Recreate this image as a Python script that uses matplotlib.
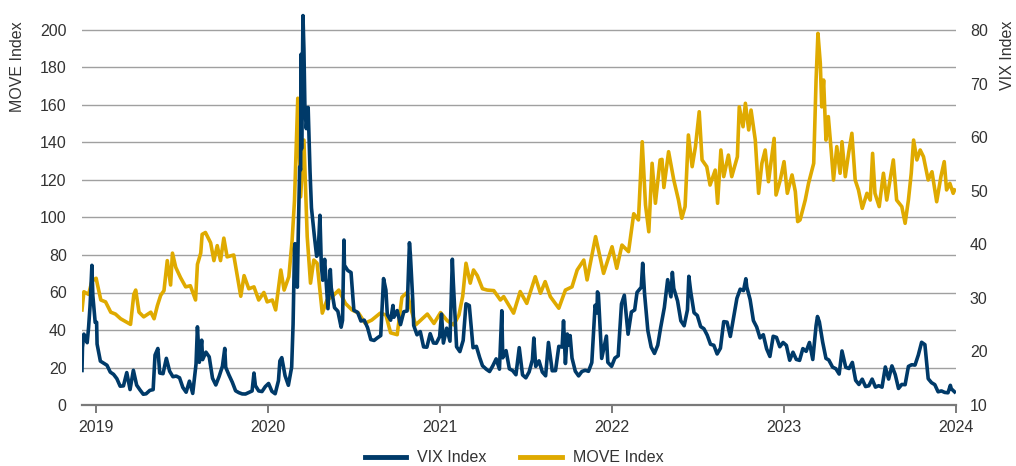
import matplotlib
matplotlib.use("Agg")
import matplotlib.pyplot as plt
import matplotlib.dates as mdates
import pandas as pd

plt.rcParams["font.family"] = ["Liberation Sans", "DejaVu Sans"]

# ── Data ──────────────────────────────────────────────────────────────────────
vix_dates = [
    "2018-12-03", "2018-12-04", "2018-12-07", "2018-12-10", "2018-12-14", "2018-12-17",
    "2018-12-20", "2018-12-21", "2018-12-24", "2018-12-26", "2018-12-28", "2018-12-31",
    "2019-01-03", "2019-01-04", "2019-01-11", "2019-01-18", "2019-01-25", "2019-02-01",
    "2019-02-08", "2019-02-15", "2019-02-22", "2019-03-01", "2019-03-08", "2019-03-15",
    "2019-03-22", "2019-03-29", "2019-04-05", "2019-04-12", "2019-04-18", "2019-04-26",
    "2019-05-03", "2019-05-07", "2019-05-13", "2019-05-17", "2019-05-24", "2019-05-31",
    "2019-06-07", "2019-06-14", "2019-06-21", "2019-06-28", "2019-07-05", "2019-07-12",
    "2019-07-19", "2019-07-26", "2019-08-02", "2019-08-05", "2019-08-09", "2019-08-14",
    "2019-08-16", "2019-08-23", "2019-08-30", "2019-09-06", "2019-09-13", "2019-09-20",
    "2019-09-27", "2019-10-02", "2019-10-04", "2019-10-11", "2019-10-18", "2019-10-25",
    "2019-11-01", "2019-11-08", "2019-11-15", "2019-11-22", "2019-11-29", "2019-12-03",
    "2019-12-06", "2019-12-13", "2019-12-20", "2019-12-27",
    "2020-01-03", "2020-01-10", "2020-01-17", "2020-01-24", "2020-01-27", "2020-01-31",
    "2020-02-07", "2020-02-14", "2020-02-21", "2020-02-24", "2020-02-27", "2020-02-28",
    "2020-03-04", "2020-03-06", "2020-03-09", "2020-03-11", "2020-03-12", "2020-03-13",
    "2020-03-16", "2020-03-18", "2020-03-20", "2020-03-23", "2020-03-27", "2020-03-31",
    "2020-04-03", "2020-04-09", "2020-04-14", "2020-04-17", "2020-04-21", "2020-04-24",
    "2020-04-27", "2020-05-01", "2020-05-08", "2020-05-13", "2020-05-15", "2020-05-22",
    "2020-05-29", "2020-06-05", "2020-06-08", "2020-06-11", "2020-06-12", "2020-06-19",
    "2020-06-26", "2020-07-02", "2020-07-10", "2020-07-17", "2020-07-24", "2020-07-31",
    "2020-08-07", "2020-08-14", "2020-08-21", "2020-08-28", "2020-09-03", "2020-09-08",
    "2020-09-11", "2020-09-18", "2020-09-23", "2020-09-25", "2020-10-02", "2020-10-09",
    "2020-10-16", "2020-10-23", "2020-10-28", "2020-10-30", "2020-11-04", "2020-11-06",
    "2020-11-13", "2020-11-20", "2020-11-27", "2020-12-04", "2020-12-11", "2020-12-18",
    "2020-12-24", "2020-12-31",
    "2021-01-04", "2021-01-08", "2021-01-15", "2021-01-22", "2021-01-27", "2021-01-29",
    "2021-02-05", "2021-02-12", "2021-02-19", "2021-02-25", "2021-03-04", "2021-03-12",
    "2021-03-19", "2021-03-26", "2021-04-01", "2021-04-09", "2021-04-16", "2021-04-23",
    "2021-04-30", "2021-05-07", "2021-05-12", "2021-05-14", "2021-05-21", "2021-05-28",
    "2021-06-04", "2021-06-11", "2021-06-18", "2021-06-25", "2021-07-02", "2021-07-09",
    "2021-07-16", "2021-07-19", "2021-07-23", "2021-07-30", "2021-08-06", "2021-08-13",
    "2021-08-19", "2021-08-27", "2021-09-03", "2021-09-10", "2021-09-17", "2021-09-20",
    "2021-09-24", "2021-09-28", "2021-10-01", "2021-10-04", "2021-10-08", "2021-10-15",
    "2021-10-22", "2021-10-29", "2021-11-05", "2021-11-12", "2021-11-19", "2021-11-26",
    "2021-11-30", "2021-12-01", "2021-12-03", "2021-12-10", "2021-12-17", "2021-12-20",
    "2021-12-23", "2021-12-31",
    "2022-01-07", "2022-01-14", "2022-01-21", "2022-01-27", "2022-02-04", "2022-02-11",
    "2022-02-18", "2022-02-23", "2022-03-04", "2022-03-07", "2022-03-11", "2022-03-18",
    "2022-03-25", "2022-04-01", "2022-04-08", "2022-04-14", "2022-04-22", "2022-04-29",
    "2022-05-06", "2022-05-09", "2022-05-12", "2022-05-20", "2022-05-27", "2022-06-03",
    "2022-06-10", "2022-06-13", "2022-06-17", "2022-06-24", "2022-07-01", "2022-07-08",
    "2022-07-15", "2022-07-22", "2022-07-29", "2022-08-05", "2022-08-12", "2022-08-19",
    "2022-08-26", "2022-09-02", "2022-09-09", "2022-09-16", "2022-09-23", "2022-09-30",
    "2022-10-07", "2022-10-12", "2022-10-14", "2022-10-21", "2022-10-28", "2022-11-04",
    "2022-11-11", "2022-11-18", "2022-11-25", "2022-12-02", "2022-12-09", "2022-12-16",
    "2022-12-23", "2022-12-30",
    "2023-01-06", "2023-01-13", "2023-01-20", "2023-01-27", "2023-02-03", "2023-02-10",
    "2023-02-17", "2023-02-24", "2023-03-03", "2023-03-10", "2023-03-13", "2023-03-17",
    "2023-03-24", "2023-03-31", "2023-04-06", "2023-04-14", "2023-04-21", "2023-04-28",
    "2023-05-04", "2023-05-12", "2023-05-19", "2023-05-26", "2023-06-02", "2023-06-09",
    "2023-06-16", "2023-06-23", "2023-06-30", "2023-07-07", "2023-07-14", "2023-07-21",
    "2023-07-28", "2023-08-04", "2023-08-11", "2023-08-18", "2023-08-25", "2023-09-01",
    "2023-09-08", "2023-09-15", "2023-09-22", "2023-09-29", "2023-10-06", "2023-10-13",
    "2023-10-20", "2023-10-27", "2023-11-03", "2023-11-10", "2023-11-17", "2023-11-24",
    "2023-12-01", "2023-12-08", "2023-12-15", "2023-12-20", "2023-12-22", "2023-12-29",
]
vix_values = [
    16.44, 20.74, 23.23, 22.64, 21.63, 24.52, 28.38, 30.11, 36.07, 30.41, 28.34, 25.42,
    25.45, 21.38, 18.19, 17.80, 17.42, 16.14, 15.72, 14.91, 13.51, 13.57, 16.05, 12.88,
    16.48, 13.71, 12.82, 12.01, 12.09, 12.73, 12.87, 19.32, 20.55, 15.96, 15.85, 18.71,
    16.30, 15.28, 15.40, 15.08, 13.28, 12.39, 14.45, 12.16, 17.61, 24.59, 17.97, 22.10,
    18.47, 19.87, 18.98, 15.00, 13.74, 15.32, 17.22, 20.56, 17.04, 15.58, 14.25, 12.65,
    12.30, 12.07, 12.05, 12.34, 12.62, 15.96, 13.62, 12.63, 12.51, 13.43,
    14.02, 12.56, 12.10, 14.56, 18.23, 18.84, 15.47, 13.68, 17.08, 25.03, 39.16, 40.11,
    31.99, 41.94, 54.46, 53.90, 75.47, 57.83, 82.69, 76.45, 66.04, 61.59, 65.54, 53.54,
    46.80, 41.67, 37.76, 38.15, 45.41, 35.93, 33.29, 37.19, 27.98, 35.28, 31.89, 28.16,
    27.51, 24.52, 25.81, 40.79, 36.09, 35.12, 34.73, 27.68, 27.29, 25.68, 25.84, 24.46,
    22.21, 22.05, 22.54, 22.96, 33.60, 31.46, 26.87, 25.83, 28.58, 26.38, 27.63, 25.00,
    27.41, 27.55, 40.28, 38.02, 29.57, 24.86, 23.10, 23.70, 20.84, 20.79, 23.31, 21.57,
    21.53, 22.75,
    26.97, 21.56, 24.34, 21.91, 37.21, 33.09, 20.87, 19.97, 22.05, 28.89, 28.57, 20.69,
    20.95, 18.86, 17.33, 16.69, 16.25, 17.33, 18.61, 16.69, 27.59, 18.81, 20.15, 16.76,
    16.42, 15.65, 20.70, 15.62, 15.07, 16.18, 18.45, 22.50, 17.20, 18.24, 16.15, 15.45,
    21.67, 16.39, 16.41, 20.95, 20.81, 25.71, 17.75, 23.25, 21.15, 22.96, 18.77, 16.30,
    15.43, 16.26, 16.48, 16.29, 17.91, 28.62, 27.19, 31.12, 30.67, 18.69, 21.57, 22.87,
    17.96, 17.22,
    18.76, 19.19, 28.85, 30.49, 23.22, 27.36, 27.75, 31.02, 31.98, 36.45, 30.75, 23.87,
    20.81, 19.63, 21.16, 24.37, 28.21, 33.40, 30.19, 34.75, 31.77, 29.43, 25.72, 24.79,
    27.75, 34.02, 31.13, 27.23, 26.70, 24.64, 24.23, 23.03, 21.33, 21.15, 19.53, 20.60,
    25.56, 25.47, 22.79, 26.30, 29.92, 31.62, 31.36, 33.57, 32.02, 29.69, 25.75, 24.55,
    22.52, 23.12, 20.50, 19.06, 22.83, 22.62, 20.87, 21.67,
    21.13, 18.35, 19.85, 18.51, 18.33, 20.53, 20.02, 21.67, 18.49, 24.80, 26.52, 25.51,
    21.74, 18.70, 18.40, 17.07, 16.77, 15.78, 20.09, 17.03, 16.81, 17.95, 14.60, 13.83,
    14.82, 13.44, 13.59, 14.83, 13.34, 13.60, 13.33, 17.10, 14.84, 17.30, 15.68, 13.09,
    13.84, 13.79, 17.20, 17.52, 17.45, 19.32, 21.71, 21.27, 14.91, 14.17, 13.80, 12.46,
    12.63, 12.35, 12.28, 13.67, 13.03, 12.45,
]

move_dates = [
    "2018-12-03", "2018-12-07", "2018-12-17", "2018-12-24", "2019-01-02", "2019-01-05",
    "2019-01-12", "2019-01-22", "2019-02-02", "2019-02-12", "2019-02-23", "2019-03-16",
    "2019-03-23", "2019-03-27", "2019-04-03", "2019-04-13", "2019-04-28", "2019-05-05",
    "2019-05-12", "2019-05-19", "2019-05-26", "2019-06-02", "2019-06-09", "2019-06-13",
    "2019-06-20", "2019-06-30", "2019-07-11", "2019-07-21", "2019-08-01", "2019-08-05",
    "2019-08-12", "2019-08-15", "2019-08-22", "2019-09-02", "2019-09-09", "2019-09-16",
    "2019-09-23", "2019-09-30", "2019-10-07", "2019-10-21", "2019-10-29", "2019-11-05",
    "2019-11-12", "2019-11-22", "2019-12-03", "2019-12-13", "2019-12-24", "2019-12-31",
    "2020-01-11", "2020-01-18", "2020-01-29", "2020-02-05", "2020-02-15", "2020-02-22",
    "2020-02-27", "2020-03-05", "2020-03-11", "2020-03-18", "2020-03-25", "2020-04-01",
    "2020-04-08", "2020-04-15", "2020-04-26", "2020-05-06", "2020-05-17", "2020-05-31",
    "2020-06-14", "2020-06-28", "2020-07-12", "2020-07-26", "2020-08-09", "2020-08-27",
    "2020-09-08", "2020-09-18", "2020-10-02", "2020-10-12", "2020-10-23", "2020-10-30",
    "2020-11-10", "2020-11-20", "2020-12-05", "2020-12-19",
    "2021-01-02", "2021-01-16", "2021-01-30", "2021-02-10", "2021-02-18", "2021-02-25",
    "2021-03-06", "2021-03-13", "2021-03-21", "2021-04-01", "2021-04-11", "2021-04-25",
    "2021-05-09", "2021-05-16", "2021-06-06", "2021-06-20", "2021-07-04", "2021-07-22",
    "2021-08-02", "2021-08-12", "2021-08-23", "2021-09-10", "2021-09-24", "2021-10-08",
    "2021-10-19", "2021-11-02", "2021-11-09", "2021-11-27", "2021-12-14",
    "2022-01-01", "2022-01-11", "2022-01-22", "2022-02-05", "2022-02-16", "2022-02-26",
    "2022-03-06", "2022-03-13", "2022-03-20", "2022-03-27", "2022-04-03", "2022-04-13",
    "2022-04-17", "2022-04-21", "2022-05-01", "2022-05-12", "2022-05-22", "2022-05-29",
    "2022-06-05", "2022-06-12", "2022-06-20", "2022-06-27", "2022-07-05", "2022-07-11",
    "2022-07-21", "2022-07-28", "2022-08-08", "2022-08-13", "2022-08-20", "2022-08-26",
    "2022-09-05", "2022-09-12", "2022-09-24", "2022-09-28", "2022-10-06", "2022-10-11",
    "2022-10-18", "2022-10-23", "2022-11-01", "2022-11-08", "2022-11-15", "2022-11-22",
    "2022-11-29", "2022-12-11", "2022-12-15", "2022-12-24",
    "2023-01-01", "2023-01-08", "2023-01-18", "2023-01-25", "2023-01-30", "2023-02-04",
    "2023-02-15", "2023-02-22", "2023-03-05", "2023-03-10", "2023-03-14", "2023-03-19",
    "2023-03-22", "2023-03-26", "2023-03-31", "2023-04-05", "2023-04-11", "2023-04-16",
    "2023-04-23", "2023-04-30", "2023-05-04", "2023-05-11", "2023-05-18", "2023-05-25",
    "2023-06-01", "2023-06-08", "2023-06-16", "2023-06-26", "2023-07-03", "2023-07-08",
    "2023-07-13", "2023-07-22", "2023-07-31", "2023-08-07", "2023-08-21", "2023-08-28",
    "2023-09-08", "2023-09-15", "2023-09-22", "2023-09-28", "2023-10-03", "2023-10-10",
    "2023-10-17", "2023-10-24", "2023-11-03", "2023-11-11", "2023-11-21", "2023-11-30",
    "2023-12-07", "2023-12-12", "2023-12-19", "2023-12-26", "2023-12-29",
]
move_values = [
    50.7, 60.4, 59.0, 66.0, 67.6, 64.0, 56.0, 55.0, 49.5, 48.5, 46.0, 43.0,
    59.0, 61.3, 49.5, 47.0, 49.5, 46.0, 53.0, 58.5, 61.0, 77.0, 64.0, 81.0,
    73.4, 68.0, 63.0, 63.6, 56.0, 75.0, 81.0, 91.0, 92.0, 86.5, 77.0, 85.0,
    77.0, 89.0, 79.0, 80.0, 68.3, 58.0, 69.0, 62.0, 63.0, 56.0, 60.0, 55.0,
    56.0, 50.7, 72.0, 61.3, 68.4, 88.0, 109.0, 163.6, 111.0, 141.3, 89.8, 65.0,
    77.3, 75.6, 49.0, 56.0, 57.8, 61.3, 54.2, 50.7, 49.0, 43.6, 45.3, 49.0,
    48.0, 38.5, 37.5, 57.5, 60.0, 52.4, 42.7, 45.0, 48.5, 43.5,
    49.3, 45.0, 42.7, 48.0, 58.0, 75.6, 65.0, 72.0, 69.0, 62.0, 61.3, 61.0,
    56.0, 57.8, 49.0, 60.5, 54.2, 68.4, 59.6, 65.8, 57.8, 51.6, 61.3, 63.0,
    72.0, 77.3, 66.7, 89.8, 70.2,
    84.4, 72.9, 85.3, 81.8, 102.0, 98.7, 140.4, 106.7, 92.4, 128.9, 107.6, 130.7,
    131.0, 116.0, 135.1, 120.0, 109.3, 99.6, 105.8, 144.0, 127.1, 137.8, 156.4, 130.7,
    127.1, 117.3, 125.3, 107.6, 136.0, 121.8, 133.3, 121.8, 132.4, 159.0, 148.4, 160.9,
    146.7, 157.3, 141.3, 112.9, 128.9, 136.0, 119.1, 142.2, 112.0, 120.0,
    129.8, 112.9, 122.7, 113.8, 97.8, 98.7, 109.3, 118.2, 128.9, 173.3, 198.2, 182.2,
    159.0, 173.3, 141.3, 153.8, 136.0, 120.0, 137.8, 123.6, 140.4, 121.8, 134.2, 144.9,
    120.0, 114.7, 104.9, 112.9, 109.3, 134.2, 112.9, 105.8, 123.6, 109.3, 130.7, 109.3,
    105.8, 96.9, 109.3, 123.6, 141.3, 130.7, 136.0, 132.4, 120.0, 124.4, 108.4, 121.8,
    129.8, 114.7, 118.2, 112.9, 114.7,
]

legend_labels = ["VIX Index", "MOVE Index"]
move_ticks = [0, 20, 40, 60, 80, 100, 120, 140, 160, 180, 200]
vix_ticks = [10, 20, 30, 40, 50, 60, 70, 80]

# ── Style ─────────────────────────────────────────────────────────────────────
VIX_COLOR = "#003A69"
MOVE_COLOR = "#DFAA00"
TEXT_COLOR = "#333333"
GRID_COLOR = "#A0A0A0"
AXIS_COLOR = "#7A7A7A"
W, H = 1016, 466


def main() -> None:
    vix = pd.Series(vix_values, index=pd.to_datetime(vix_dates))
    move = pd.Series(move_values, index=pd.to_datetime(move_dates))

    fig = plt.figure(figsize=(W / 100, H / 100), dpi=100)
    left, right, bottom = 82 / W, 956 / W, 61 / H
    top = (H - 11.25) / H
    ax = fig.add_axes([left, bottom, right - left, top - bottom])
    ax2 = ax.twinx()

    # MOVE on the left axis, VIX on the right axis (drawn on top)
    l_move, = ax.plot(move.index, move.values, color=MOVE_COLOR, lw=2.6,
                      solid_joinstyle="round", label=legend_labels[1])
    l_vix, = ax2.plot(vix.index, vix.values, color=VIX_COLOR, lw=2.6,
                      solid_joinstyle="round", label=legend_labels[0])

    ax.set_ylim(0, 210)
    ax2.set_ylim(10, 10 + 0.35 * 210)
    ax.set_xlim(pd.Timestamp("2018-12-03"), pd.Timestamp("2024-01-01"))

    ax.set_yticks(move_ticks)
    ax2.set_yticks(vix_ticks)
    ax.grid(axis="y", color=GRID_COLOR, lw=1.0)
    ax.set_axisbelow(True)

    ax.xaxis.set_major_locator(mdates.YearLocator())
    ax.xaxis.set_major_formatter(mdates.DateFormatter("%Y"))

    for a in (ax, ax2):
        for side in ("top", "left", "right", "bottom"):
            a.spines[side].set_visible(False)
    ax.spines["bottom"].set_visible(True)
    ax.spines["bottom"].set_color(AXIS_COLOR)
    ax.spines["bottom"].set_linewidth(1.6)

    ax.tick_params(axis="x", length=6, width=1.4, color=AXIS_COLOR, pad=5,
                   labelsize=11.5, labelcolor=TEXT_COLOR)
    ax.tick_params(axis="y", length=0, pad=11, labelsize=11.5, labelcolor=TEXT_COLOR)
    ax2.tick_params(axis="y", length=0, pad=10, labelsize=11.5, labelcolor=TEXT_COLOR)

    fig.text(18 / W, 1 - 21 / H, "MOVE Index", rotation=90, ha="center", va="top",
             fontsize=11.5, color=TEXT_COLOR)
    fig.text(1008 / W, 1 - 21 / H, "VIX Index", rotation=90, ha="center", va="top",
             fontsize=11.5, color=TEXT_COLOR)

    fig.legend([l_vix, l_move], legend_labels, loc="center",
               bbox_to_anchor=(514 / W, 8 / H), ncol=2, frameon=False,
               fontsize=11.5, labelcolor=TEXT_COLOR, handlelength=2.6,
               handletextpad=0.7, columnspacing=2.1)
    for line in fig.legends[0].get_lines():
        line.set_linewidth(3.5)

    fig.savefig("out.png", dpi=100)


if __name__ == "__main__":
    main()
